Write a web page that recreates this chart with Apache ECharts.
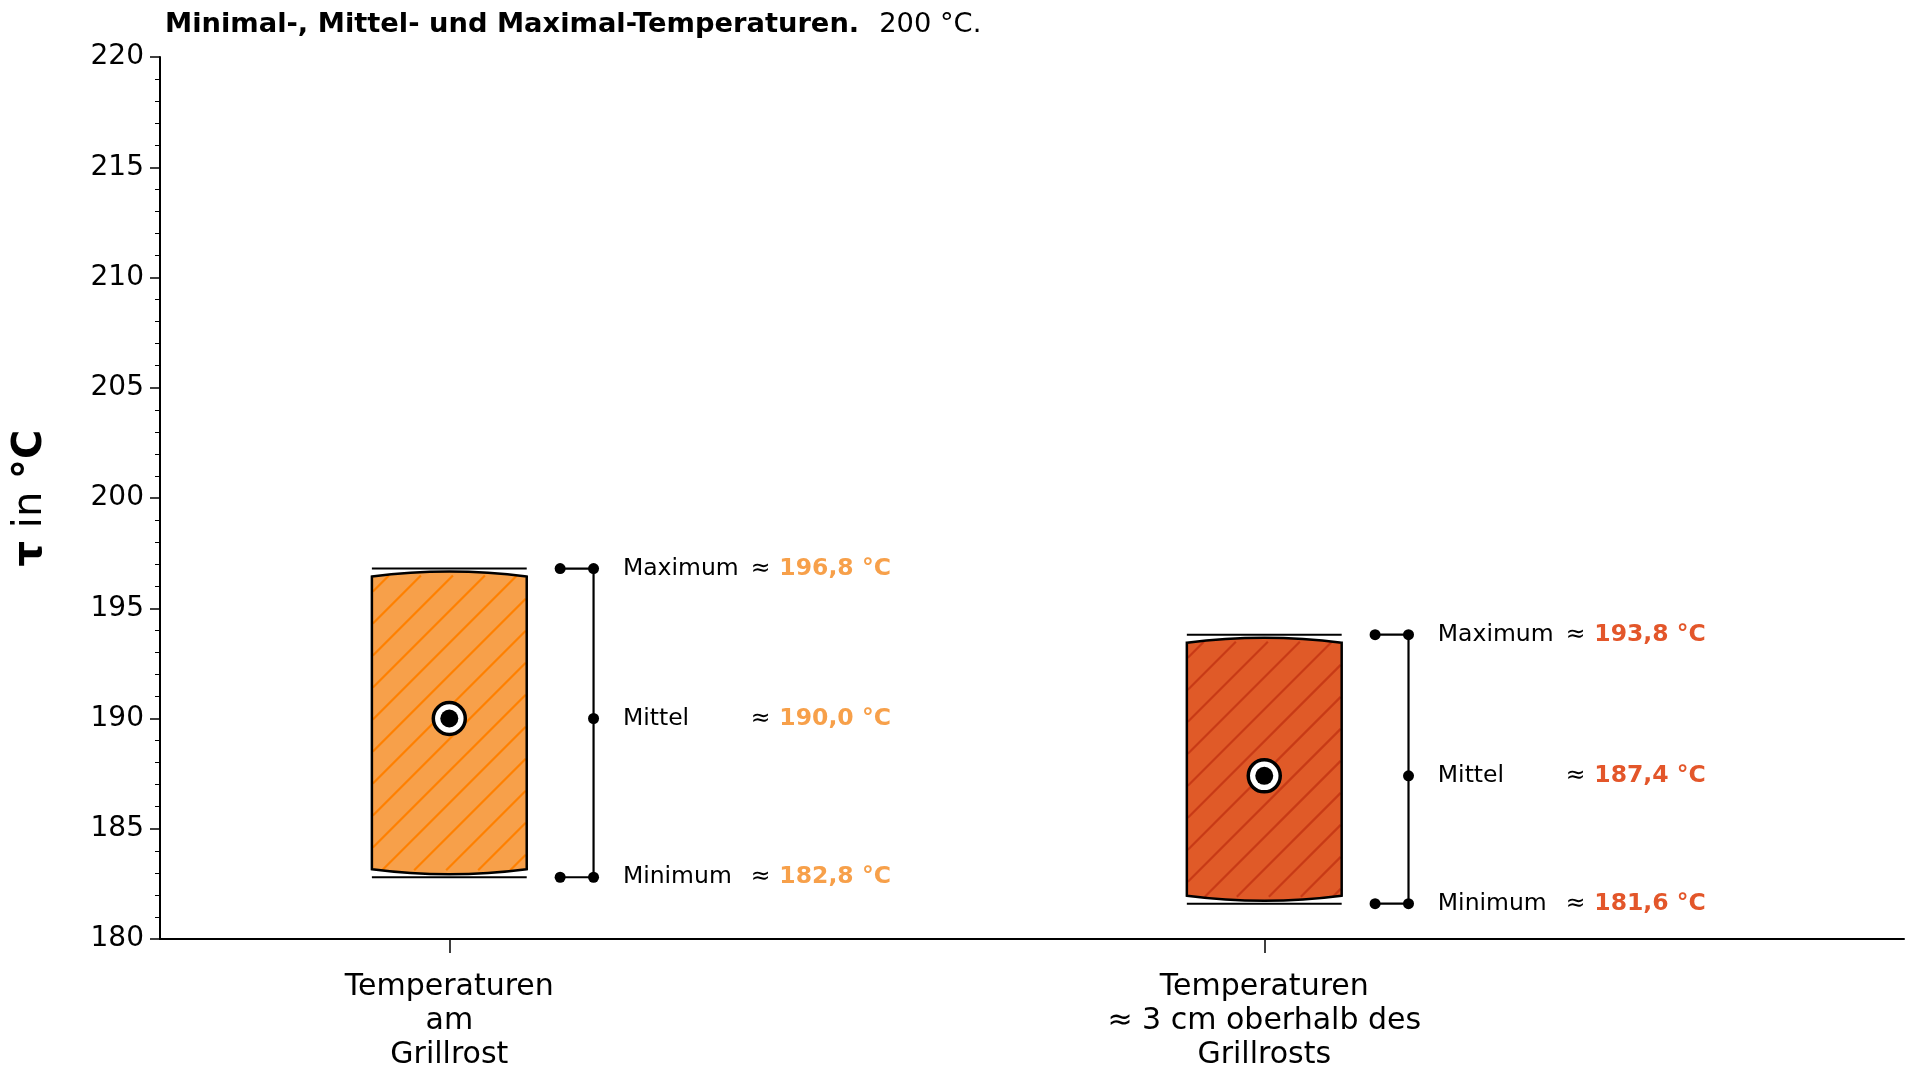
<!DOCTYPE html>
<html>
<head>
<meta charset="utf-8">
<script src="https://cdn.jsdelivr.net/npm/echarts@6/dist/echarts.min.js"></script>
<style>
  html, body { margin: 0; padding: 0; background: #fff; }
  #chart { width: 1920px; height: 1080px; }
</style>
</head>
<body>
<div id="chart"></div>
<script>
// data
const categories = ['Temperaturen\nam\nGrillrost', 'Temperaturen\n≈ 3 cm oberhalb des\nGrillrosts'];
const minTemps = [182.8, 181.6];
const meanTemps = [190.0, 187.4];
const maxTemps = [196.8, 193.8];
const rowLabels = ['Maximum', 'Mittel', 'Minimum'];
const yTicks = { min: 180, max: 220, step: 5 };

// styles
const fillColors = ['#F7A04A', '#E05A28'];
const hatchColors = ['#FF8000', '#C83A16'];
const valueColors = ['#F7A04A', '#E3562A'];
const FONT = "'DejaVu Sans', sans-serif";

const fmt = (v) => v.toFixed(1).replace('.', ',') + ' °C';

function renderBox(params, api) {
  const i = params.dataIndex;
  const cx = api.value(0);
  const vMin = api.value(1);
  const vMean = api.value(2);
  const vMax = api.value(3);
  const fill = fillColors[i];
  const hatch = hatchColors[i];

  const [xl, yt] = api.coord([cx - 0.095, vMax]);
  const [xr, yb] = api.coord([cx + 0.095, vMin]);
  const [xc, ym] = api.coord([cx, vMean]);
  const children = [];

  // can-shaped body
  const body =
    `M${xl},${yt + 8} Q${xc},${yt - 2} ${xr},${yt + 8} L${xr},${yb - 8} ` +
    `Q${xc},${yb + 2} ${xl},${yb - 8} Z`;
  children.push({ type: 'path', shape: { pathData: body }, style: { fill: fill, stroke: null } });

  // diagonal hatch, clipped to the inner rectangle
  const x0 = xl + 1, x1 = xr - 1, y0 = yt + 7, y1 = yb - 7;
  const step = 32;
  for (let c = x0 + y0 + step / 2; c < x1 + y1; c += step) {
    const xa = Math.max(x0, c - y1);
    const xb = Math.min(x1, c - y0);
    if (xb <= xa) continue;
    children.push({
      type: 'line',
      shape: { x1: xa, y1: c - xa, x2: xb, y2: c - xb },
      style: { stroke: hatch, lineWidth: 2.2 }
    });
  }
  children.push({ type: 'path', shape: { pathData: body }, style: { fill: null, stroke: '#000', lineWidth: 2.5 } });

  // max / min lines
  children.push({ type: 'line', shape: { x1: xl, y1: yt, x2: xr, y2: yt }, style: { stroke: '#000', lineWidth: 2 } });
  children.push({ type: 'line', shape: { x1: xl, y1: yb, x2: xr, y2: yb }, style: { stroke: '#000', lineWidth: 2 } });

  // mean marker
  children.push({ type: 'circle', shape: { cx: xc, cy: ym, r: 16 }, style: { fill: '#fff', stroke: '#000', lineWidth: 3.5 } });
  children.push({ type: 'circle', shape: { cx: xc, cy: ym, r: 9 }, style: { fill: '#000' } });

  // bracket
  const bl = api.coord([cx + 0.136, vMax])[0];
  const bv = api.coord([cx + 0.177, vMax])[0];
  children.push({ type: 'line', shape: { x1: bv, y1: yt, x2: bv, y2: yb }, style: { stroke: '#000', lineWidth: 2.2 } });
  children.push({ type: 'line', shape: { x1: bl, y1: yt, x2: bv, y2: yt }, style: { stroke: '#000', lineWidth: 2.2 } });
  children.push({ type: 'line', shape: { x1: bl, y1: yb, x2: bv, y2: yb }, style: { stroke: '#000', lineWidth: 2.2 } });
  [[bl, yt], [bv, yt], [bv, ym], [bl, yb], [bv, yb]].forEach(([px, py]) => {
    children.push({ type: 'circle', shape: { cx: px, cy: py, r: 5.5 }, style: { fill: '#000' } });
  });

  // labels
  const xName = api.coord([cx + 0.213, vMax])[0];
  const xApprox = api.coord([cx + 0.37, vMax])[0];
  const xVal = api.coord([cx + 0.405, vMax])[0];
  [[rowLabels[0], vMax, yt], [rowLabels[1], vMean, ym], [rowLabels[2], vMin, yb]].forEach(([name, v, py]) => {
    children.push({ type: 'text', style: { text: name, x: xName, y: py, font: `23.5px ${FONT}`, fill: '#000', verticalAlign: 'middle' } });
    children.push({ type: 'text', style: { text: '≈', x: xApprox, y: py, font: `23.5px ${FONT}`, fill: '#000', verticalAlign: 'middle' } });
    children.push({ type: 'text', style: { text: fmt(v), x: xVal, y: py, font: `bold 23.5px ${FONT}`, fill: valueColors[i], verticalAlign: 'middle' } });
  });

  return { type: 'group', children };
}

const chart = echarts.init(document.getElementById('chart'));
chart.setOption({
  animation: false,
  backgroundColor: '#fff',
  title: {
    left: 160,
    top: 6,
    text: '{b|Minimal-, Mittel- und Maximal-Temperaturen.}{n|200 °C.}',
    textStyle: {
      rich: {
        b: { fontFamily: FONT, fontWeight: 'bold', fontSize: 27.3, color: '#000' },
        n: { fontFamily: FONT, fontWeight: 'normal', fontSize: 27.3, color: '#000', padding: [0, 0, 0, 20] }
      }
    }
  },
  grid: { left: 160, right: 16, top: 57, bottom: 141, containLabel: false },
  xAxis: {
    type: 'value',
    min: -0.355,
    max: 1.785,
    splitLine: { show: false },
    axisLine: { onZero: false, lineStyle: { color: '#000', width: 2 } },
    axisTick: { show: true, customValues: [0, 1], length: 14, lineStyle: { color: '#000', width: 1.5 } },
    axisLabel: {
      customValues: [0, 1],
      formatter: (v) => categories[Math.round(v)],
      margin: 31,
      fontFamily: FONT,
      fontSize: 30,
      lineHeight: 34,
      color: '#000',
      align: 'center'
    }
  },
  yAxis: {
    type: 'value',
    min: yTicks.min,
    max: yTicks.max,
    interval: yTicks.step,
    name: '{b|τ}{n| in }{b|°C}',
    nameLocation: 'middle',
    nameRotate: 90,
    nameGap: 109,
    nameTextStyle: {
      rich: {
        b: { fontFamily: FONT, fontWeight: 'bold', fontSize: 40, color: '#000' },
        n: { fontFamily: FONT, fontWeight: 'normal', fontSize: 40, color: '#000' }
      }
    },
    splitLine: { show: false },
    axisLine: { show: true, onZero: false, lineStyle: { color: '#000', width: 2 } },
    axisTick: { show: true, length: 10, lineStyle: { color: '#000', width: 1.5 } },
    minorTick: { show: true, splitNumber: 5, length: 5, lineStyle: { color: '#000', width: 1 } },
    axisLabel: { fontFamily: FONT, fontSize: 28, color: '#000', margin: 16 }
  },
  series: [{
    type: 'custom',
    renderItem: renderBox,
    clip: false,
    data: categories.map((c, i) => [i, minTemps[i], meanTemps[i], maxTemps[i]])
  }]
});
</script>
</body>
</html>
